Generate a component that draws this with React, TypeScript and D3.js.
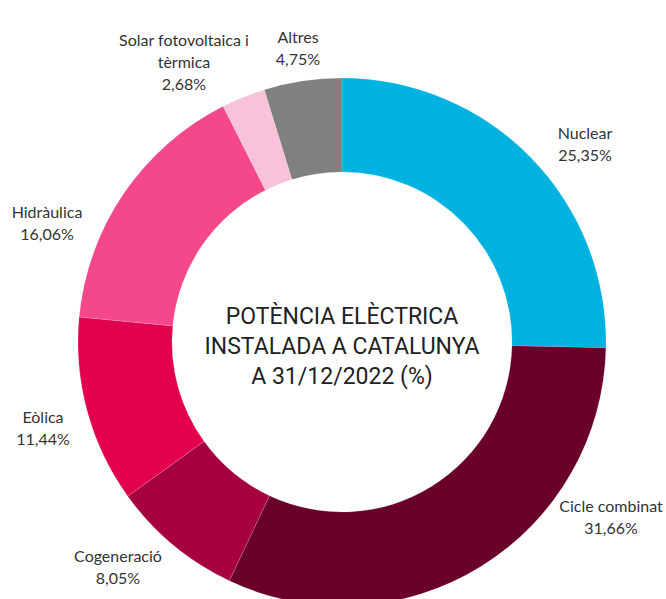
import React from "react";
import * as d3 from "d3";

// data, clockwise from 12 o'clock
const categories = ["Nuclear", "Cicle combinat", "Cogeneració", "Eòlica", "Hidràulica", "Solar fotovoltaica i tèrmica", "Altres"];
const values = [25.35, 31.66, 8.05, 11.44, 16.06, 2.68, 4.75];
const labelLines = [
    ["Nuclear"],
    ["Cicle combinat"],
    ["Cogeneració"],
    ["Eòlica"],
    ["Hidràulica"],
    ["Solar fotovoltaica i", "tèrmica"],
    ["Altres"],
];
const colors = ["#00B2E0", "#6A0029", "#A6003F", "#E3004F", "#F4488A", "#F9C2D9", "#808080"];
const title = ["POTÈNCIA ELÈCTRICA", "INSTALADA A CATALUNYA", "A 31/12/2022 (%)"];

// label anchor (text centre, first line baseline)
const labelAt = [
    [585, 139],
    [611, 512],
    [118, 562],
    [43, 423],
    [47, 218],
    [184, 46],
    [298, 43],
];

const W = 666;
const H = 599;
const cx = 342;
const cy = 342;
const outerR = 264;
const innerR = 170;

const fmt = (v: number) => v.toFixed(2).replace(".", ",") + "%";

const App = () => {
    const pie = d3.pie<number>().value(d => d).sort(null);
    const arc = d3.arc<d3.PieArcDatum<number>>().innerRadius(innerR).outerRadius(outerR);
    const arcs = pie(values);

    return (
        <svg width={W} height={H} style={{ position: "absolute", left: 0, top: 0, background: "#fff" }}>
            <g transform={`translate(${cx},${cy})`}>
                {arcs.map((a, i) => (
                    <path key={categories[i]} d={arc(a) || ""} fill={colors[i]} stroke="#fff" strokeOpacity={0.25} strokeWidth={0.6} />
                ))}
            </g>
            <g fontFamily="Roboto, sans-serif" fontSize={23} fill="#222" textAnchor="middle">
                {title.map((t, i) => (
                    <text key={t} x={cx} y={324 + i * 30}>{t}</text>
                ))}
            </g>
            <g fontFamily="Lato, 'Open Sans', sans-serif" fontSize={16} fill="#333" textAnchor="middle">
                {labelLines.map((lines, i) => {
                    const [x, y] = labelAt[i];
                    const all = [...lines, fmt(values[i])];
                    return (
                        <text key={categories[i]} x={x} y={y}>
                            {all.map((l, j) => (
                                <tspan key={j} x={x} dy={j === 0 ? 0 : 22}>{l}</tspan>
                            ))}
                        </text>
                    );
                })}
            </g>
        </svg>
    );
};

export default App;
